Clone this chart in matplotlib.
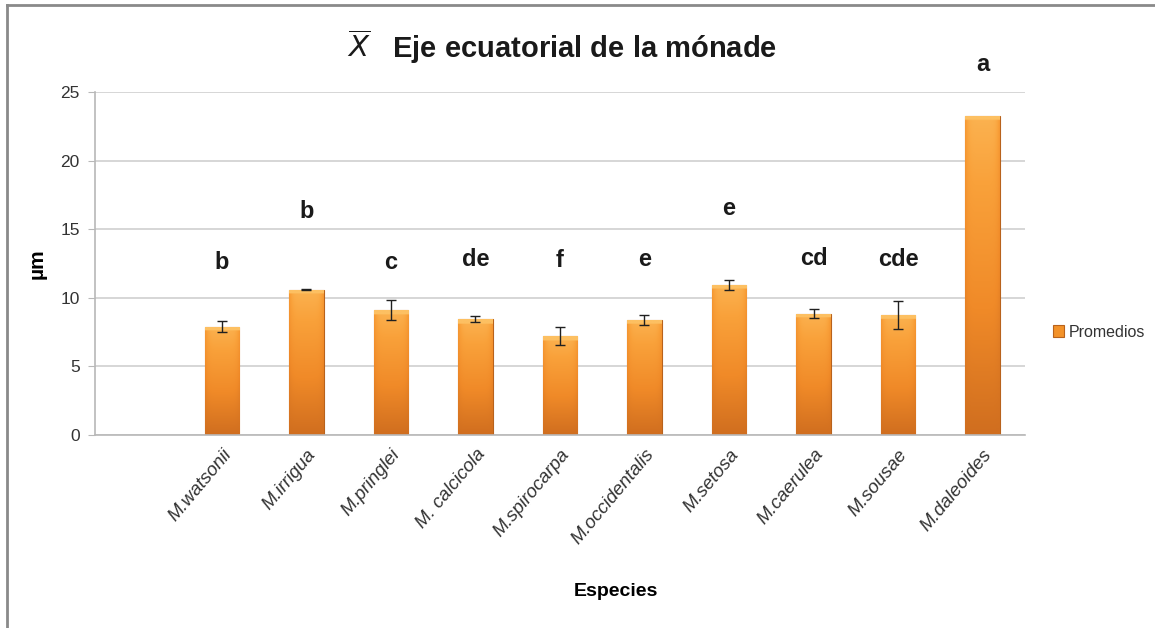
import matplotlib
matplotlib.use("Agg")
import matplotlib.pyplot as plt
import numpy as np
from matplotlib.colors import LinearSegmentedColormap
from matplotlib.lines import Line2D

plt.rcParams['font.family'] = ['Liberation Sans Narrow', 'Liberation Sans', 'DejaVu Sans']

species = ['M.watsonii', 'M.irrigua', 'M.pringlei', 'M. calcicola', 'M.spirocarpa',
           'M.occidentalis', 'M.setosa', 'M.caerulea', 'M.sousae', 'M.daleoides']
means = [7.9, 10.6, 9.1, 8.45, 7.2, 8.4, 10.95, 8.85, 8.75, 23.25]
errors = [0.42, 0.03, 0.75, 0.2, 0.65, 0.35, 0.38, 0.35, 1.0, 0.0]
letters = ['b', 'b', 'c', 'de', 'f', 'e', 'e', 'cd', 'cde', 'a']
letter_y = [12.6, 16.3, 12.6, 12.8, 12.7, 12.8, 16.5, 12.9, 12.8, 27.0]

x = np.arange(1, len(species) + 1)  # slot 0 is left empty
width = 0.41

fig = plt.figure(figsize=(11.55, 6.28), dpi=100)
ax = fig.add_axes([0.0823, 0.3073, 0.805, 0.5462])

bars = ax.bar(x, means, width, color='#F39229', edgecolor='#B8621C', linewidth=0.8,
              label='Promedios', zorder=2)

# orange gradient fill inside each bar
cmap = LinearSegmentedColormap.from_list('bar', ['#D06E1F', '#F08A28', '#F9A13A', '#FDC062'])
ny, nx = 200, 60
vert = np.linspace(0.0, 0.85, ny)[:, None]
horiz = 1 - 0.35 * (np.abs(np.linspace(-1, 1, nx)) ** 6)[None, :]
grad = vert * horiz
for b in bars:
    x0, y0 = b.get_x(), b.get_y()
    w, h = b.get_width(), b.get_height()
    g = grad.copy()
    # light bevel near the top
    top_px = max(1, int(ny * min(0.35 / max(h, 0.1), 0.3)))
    g[-top_px:, :] = 1.0
    im = ax.imshow(g, cmap=cmap, vmin=0, vmax=1, origin='lower', aspect='auto',
                   extent=(x0, x0 + w, y0, y0 + h), zorder=2.5, interpolation='bilinear')
    im.set_clip_path(b)

has_err = np.array(errors) > 0
ax.errorbar(x[has_err], np.array(means)[has_err], yerr=np.array(errors)[has_err],
            fmt='none', ecolor='#202020', elinewidth=1, capsize=3.5, capthick=1, zorder=4)

for xi, txt, yy in zip(x, letters, letter_y):
    ax.text(xi, yy, txt, ha='center', va='center', fontsize=17, fontweight='bold',
            color='#1a1a1a', clip_on=False)

ax.set_xlim(-0.5, 10.5)
ax.set_ylim(0, 25)
ax.set_yticks(np.arange(0, 26, 5))
ax.yaxis.grid(True, color='#d0d0d0', linewidth=1.2, zorder=0)
ax.set_axisbelow(True)
for s in ['top', 'right']:
    ax.spines[s].set_visible(False)
ax.spines['left'].set_color('#b8b8b8')
ax.spines['bottom'].set_color('#b8b8b8')
ax.spines['left'].set_linewidth(1.2)
ax.spines['bottom'].set_linewidth(1.2)
ax.tick_params(axis='y', length=5, color='#b8b8b8', labelsize=12.5, labelcolor='#333333', pad=6)
ax.tick_params(axis='x', length=0, pad=8)
ax.set_xticks(x)
ax.set_xticklabels(species, rotation=50, ha='right', va='top', rotation_mode='anchor',
                   fontsize=13.5, style='italic', color='#333333')

ax.set_ylabel('µm', fontsize=15, fontweight='bold')
ax.yaxis.set_label_coords(-0.052, 0.5)
ax.set_xlabel('Especies', fontsize=14, fontweight='bold')
ax.xaxis.set_label_coords(0.56, -0.43)

fig.text(0.487, 0.925, r'$\overline{X}$   Eje ecuatorial de la mónade', ha='center',
         va='center', fontsize=21, fontweight='bold', color='#1a1a1a')

leg = ax.legend(loc='center left', bbox_to_anchor=(1.015, 0.3), frameon=False,
                fontsize=11.5, handlelength=0.7, handleheight=0.7, handletextpad=0.3)
for t in leg.get_texts():
    t.set_color('#333333')

# chart frame lines
fig.add_artist(Line2D([0.006, 1.0], [0.992, 0.992], color='#8a8a8a', linewidth=2))
fig.add_artist(Line2D([0.006, 0.006], [0.0, 0.992], color='#8a8a8a', linewidth=2))

fig.savefig('out.png', dpi=100, facecolor='white')
